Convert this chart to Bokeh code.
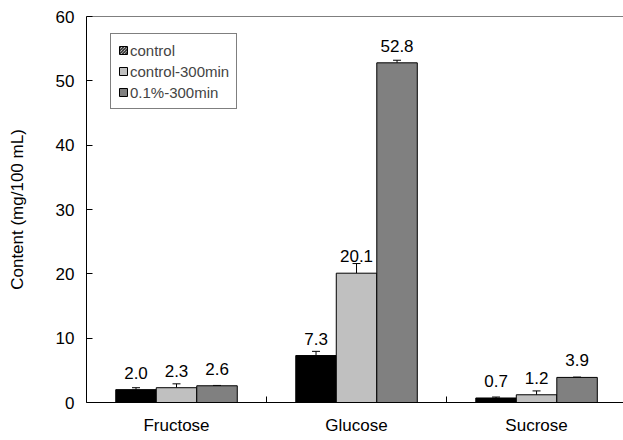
from bokeh.plotting import figure
from bokeh.models import (ColumnDataSource, Range1d, FixedTicker, Whisker, TeeHead,
                          Legend, LegendItem, Span)
from bokeh.core.properties import value
from bokeh.embed import file_html
from bokeh.resources import INLINE

categories = ["Fructose", "Glucose", "Sucrose"]
series_names = ["control", "control-300min", "0.1%-300min"]
control = [2.0, 7.3, 0.7]
control_300 = [2.3, 20.1, 1.2]
pct_300 = [2.6, 52.8, 3.9]
err_control = [0.3, 0.65, 0.15]
err_control_300 = [0.6, 1.5, 0.6]
err_pct_300 = [0.05, 0.4, 0.05]
y_ticks = [0, 10, 20, 30, 40, 50, 60]

FONT = "Liberation Sans"
FS = "17px"
colors = ["#000000", "#C0C0C0", "#808080"]
bar_w = 0.225
offsets = [-bar_w, 0.0, bar_w]

p = figure(width=623, height=440, output_backend="svg", toolbar_location=None,
           x_range=Range1d(0, 2.983), y_range=Range1d(0, 60),
           min_border_left=86, min_border_right=0, min_border_top=16, min_border_bottom=38)
p.outline_line_color = None
p.xgrid.visible = False
p.ygrid.visible = False
p.background_fill_color = "white"
p.border_fill_color = "white"

# top frame line
p.add_layout(Span(location=60, dimension="width", line_color="black", line_width=1))

all_vals = [control, control_300, pct_300]
all_errs = [err_control, err_control_300, err_pct_300]
renderers = []
for j, (vals, errs) in enumerate(zip(all_vals, all_errs)):
    xs = [i + 0.5 + offsets[j] for i in range(len(categories))]
    src = ColumnDataSource(dict(x=xs, top=vals, upper=[v + e for v, e in zip(vals, errs)],
                                label=["%.1f" % v for v in vals]))
    r = p.vbar(x="x", top="top", width=bar_w, bottom=0, source=src,
               fill_color=colors[j], line_color="black", line_width=1)
    renderers.append(r)
    p.add_layout(Whisker(source=src, base="x", lower="top", upper="upper",
                         line_color="black", line_width=1, lower_head=None,
                         upper_head=TeeHead(size=8, line_color="black", line_width=1)))
    p.text(x="x", y="top", text="label", source=src, text_align="center",
           text_baseline="alphabetic", y_offset=-17, text_font=value(FONT),
           text_font_size=FS, text_color="black")

# legend: control shown hatched as in the reference
nan = float("nan")
leg_src = ColumnDataSource(dict(x=[nan], top=[nan]))
r0 = p.vbar(x="x", top="top", width=bar_w, source=leg_src, fill_color="white",
            hatch_pattern="\\", hatch_color="black", hatch_scale=3, hatch_weight=1,
            line_color="black")
legend = Legend(items=[LegendItem(label=series_names[0], renderers=[r0]),
                       LegendItem(label=series_names[1], renderers=[renderers[1]]),
                       LegendItem(label=series_names[2], renderers=[renderers[2]])],
                location=(24, 293), orientation="vertical")
legend.glyph_width = 10
legend.glyph_height = 10
legend.label_height = 18
legend.spacing = 3
legend.padding = 7
legend.margin = 0
legend.label_standoff = 2
legend.label_text_font = FONT
legend.label_text_font_size = "15px"
legend.border_line_color = "black"
legend.border_line_width = 1
legend.background_fill_color = "white"
legend.background_fill_alpha = 1
p.add_layout(legend, "center")

# axes
xa = p.xaxis[0]
xa.ticker = FixedTicker(ticks=[i + 0.5 for i in range(len(categories))],
                        minor_ticks=[1, 2])
xa.major_label_overrides = {i + 0.5: c for i, c in enumerate(categories)}
xa.major_tick_in = 0
xa.major_tick_out = 0
xa.minor_tick_in = 6
xa.minor_tick_out = 0
xa.minor_tick_line_color = "black"
xa.axis_line_color = "black"
xa.major_label_standoff = 13
xa.major_label_text_font = FONT
xa.major_label_text_font_size = FS
xa.major_label_text_color = "black"

ya = p.yaxis[0]
ya.ticker = FixedTicker(ticks=y_ticks, minor_ticks=[])
ya.major_tick_in = 6
ya.major_tick_out = 0
ya.major_tick_line_color = "black"
ya.minor_tick_line_color = None
ya.axis_line_color = "black"
ya.major_label_standoff = 12
ya.major_label_text_font = FONT
ya.major_label_text_font_size = FS
ya.major_label_text_color = "black"
ya.axis_label = "Content (mg/100 mL)"
ya.axis_label_text_font = FONT
ya.axis_label_text_font_size = FS
ya.axis_label_text_font_style = "normal"
ya.axis_label_text_color = "black"
ya.axis_label_standoff = 26

open("out.html", "w").write(file_html(p, INLINE))
